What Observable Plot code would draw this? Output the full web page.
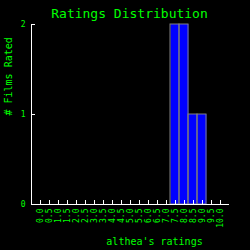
<!DOCTYPE html>
<html><head><meta charset="utf-8">
<script src="https://cdn.jsdelivr.net/npm/d3@7"></script>
<script src="https://cdn.jsdelivr.net/npm/@observablehq/plot@0.6"></script>
<style>html,body{margin:0;padding:0;background:#000;}</style>
</head><body><div id="chart"></div>
<script>
const ratings = [0,0.5,1,1.5,2,2.5,3,3.5,4,4.5,5,5.5,6,6.5,7,7.5,8,8.5,9,9.5,10];
const counts  = [0,0,0,0,0,0,0,0,0,0,0,0,0,0,0,2,2,1,1,0,0];
const yTicks = [0,1,2];
const title = "Ratings Distribution";
const xLabel = "althea's ratings";
const yLabel = "# Films Rated";

const bins = ratings.map((r,i)=>({r, count: counts[i]})).filter(d=>d.count>0);
const green = "#00ff00";
const font = "DejaVu Sans Mono";

const chart = Plot.plot({
  width: 250, height: 250,
  marginLeft: 31, marginRight: 21, marginTop: 24, marginBottom: 46,
  style: {background: "#000", color: green, fontFamily: font},
  x: {domain: [-0.5, 10.5]},
  y: {domain: [0, 2]},
  marks: [
    Plot.rectY(bins, {x1: d=>d.r-0.25, x2: d=>d.r+0.25, y: "count", fill: "#0000ff"}),
    Plot.rectY(bins, {x1: d=>d.r-0.25, x2: d=>d.r+0.25, y: "count", fill: "none", stroke: "#808080", strokeWidth: 1, dx: -0.5}),
    Plot.axisX({ticks: ratings, tickSize: -4, tickFormat: () => "", stroke: "#fff", label: null}),
    Plot.axisX({ticks: ratings, tickSize: 0, tickPadding: 4, tickRotate: -90, tickFormat: d3.format(".1f"), fill: green, fontSize: 8, label: null}),
    Plot.axisY({ticks: yTicks, tickSize: -4, tickFormat: () => "", stroke: "#fff", label: null}),
    Plot.axisY({ticks: yTicks, tickSize: 0, tickPadding: 6, tickFormat: d3.format("d"), fill: green, fontSize: 8, label: null}),
    Plot.ruleY([0], {stroke: "#fff"}),
    Plot.ruleX([-0.5], {stroke: "#fff"}),
    Plot.text([title], {frameAnchor: "top", dy: -16, dx: -1, fill: green, fontSize: 13, fontFamily: font}),
    Plot.text([xLabel], {frameAnchor: "bottom", dy: 40, dx: 24, fill: green, fontSize: 10, fontFamily: font}),
    Plot.text([yLabel], {frameAnchor: "left", dx: -23, dy: 1, rotate: -90, fill: green, fontSize: 10, fontFamily: font})
  ]
});
document.getElementById("chart").append(chart);
</script>
</body></html>
